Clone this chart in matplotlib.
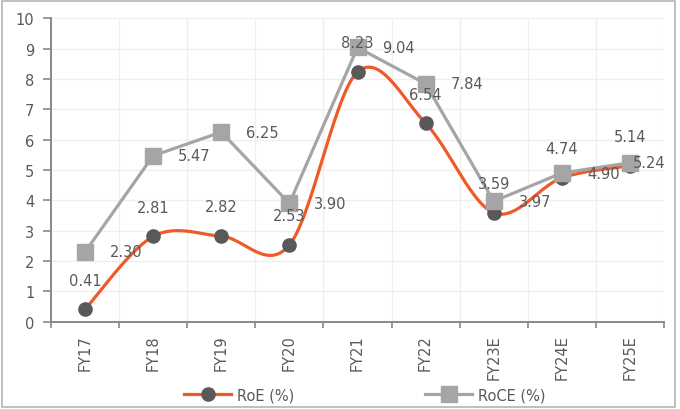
import numpy as np
import matplotlib.pyplot as plt
from matplotlib.patches import Rectangle

years = ["FY17", "FY18", "FY19", "FY20", "FY21", "FY22", "FY23E", "FY24E", "FY25E"]
roe = [0.41, 2.81, 2.82, 2.53, 8.23, 6.54, 3.59, 4.74, 5.14]
roce = [2.30, 5.47, 6.25, 3.90, 9.04, 7.84, 3.97, 4.90, 5.24]

ORANGE = "#F05A28"
DARK = "#595959"
GREY = "#A5A5A5"
TEXT = "#595959"


def smooth(x, y, n=30):
    # Catmull-Rom style bezier, like Excel's smoothed line
    x = np.asarray(x, float)
    y = np.asarray(y, float)
    px = np.r_[x[0], x, x[-1]]
    py = np.r_[y[0], y, y[-1]]
    xs, ys = [], []
    t = np.linspace(0, 1, n)
    for i in range(1, len(px) - 2):
        p0 = np.array([px[i - 1], py[i - 1]])
        p1 = np.array([px[i], py[i]])
        p2 = np.array([px[i + 1], py[i + 1]])
        p3 = np.array([px[i + 2], py[i + 2]])
        c1 = p1 + (p2 - p0) / 6
        c2 = p2 - (p3 - p1) / 6
        b = ((1 - t) ** 3)[:, None] * p1 + (3 * (1 - t) ** 2 * t)[:, None] * c1 \
            + (3 * (1 - t) * t ** 2)[:, None] * c2 + (t ** 3)[:, None] * p2
        xs.extend(b[:, 0])
        ys.extend(b[:, 1])
    return np.array(xs), np.array(ys)


fig = plt.figure(figsize=(6.8, 4.1), dpi=100)
ax = fig.add_axes([0.075, 0.2129, 0.9015, 0.74])
fig.patches.append(Rectangle((0.003, 0.004), 0.99, 0.992, transform=fig.transFigure,
                             fill=False, edgecolor="#B4B4B4", linewidth=1.2))

x = np.arange(len(years))
sx, sy = smooth(x, roe)
ax.plot(sx, sy, color=ORANGE, lw=2.3, zorder=3)
ax.plot(x, roe, "o", color=DARK, ms=9.5, zorder=4)
ax.plot(x, roce, color=GREY, lw=2.3, marker="s", ms=11, mfc=GREY, mec=GREY, zorder=5)

# legend proxies
ax.plot([], [], color=ORANGE, lw=2.3, marker="o", ms=9.5, mfc=DARK, mec=DARK, label="RoE (%)")
ax.plot([], [], color=GREY, lw=2.3, marker="s", ms=11, label="RoCE (%)")

for xi, v in zip(x, roe):
    ax.annotate(f"{v:.2f}", (xi, v), xytext=(0, 21), textcoords="offset points",
                ha="center", va="center", fontsize=10.5, color=TEXT, zorder=6)
for xi, v in zip(x, roce):
    dx = 2 if xi == len(years) - 1 else 18  # last label pulled in to fit
    ax.annotate(f"{v:.2f}", (xi, v), xytext=(dx, 0), textcoords="offset points",
                ha="left", va="center", fontsize=10.5, color=TEXT, zorder=6)

ax.set_xlim(-0.5, len(years) - 0.5)
ax.set_ylim(0, 10)
ax.set_yticks(range(0, 11))
ax.set_xticks(x)
ax.set_xticklabels(years, rotation=90)
ax.set_xticks(np.arange(-0.5, len(years)), minor=True)
ax.tick_params(axis="x", which="major", length=0, pad=9, labelsize=10.5, labelcolor=TEXT)
ax.tick_params(axis="x", which="minor", length=4, color="#898989", width=1.2)
ax.tick_params(axis="y", length=6, pad=6, color="#898989", width=1.2, labelsize=10.5, labelcolor=TEXT)

ax.grid(True, which="minor", axis="x", color="#EEEEEE", lw=0.9)
ax.grid(True, which="major", axis="y", color="#EEEEEE", lw=0.9)
ax.set_axisbelow(True)
for s in ["top", "right"]:
    ax.spines[s].set_visible(False)
for s in ["left", "bottom"]:
    ax.spines[s].set_color("#898989")
    ax.spines[s].set_linewidth(1.4)

ax.legend(loc="center", bbox_to_anchor=(0.512, -0.24), ncol=2, frameon=False,
          fontsize=10.5, labelcolor=TEXT, handlelength=3.2, columnspacing=9, handletextpad=0.4)

fig.savefig("out.png", dpi=100)
